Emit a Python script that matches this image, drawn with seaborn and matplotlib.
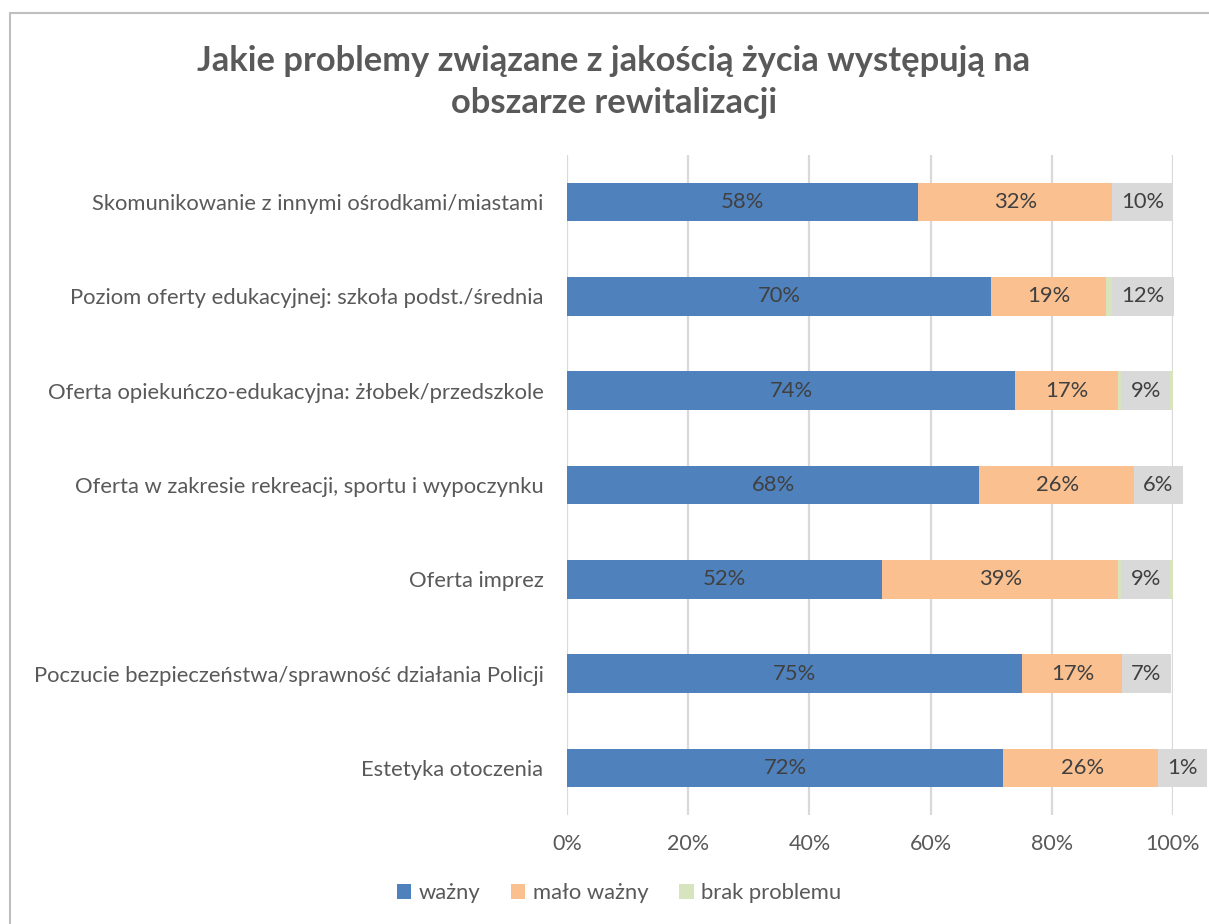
import matplotlib
matplotlib.use("Agg")
import matplotlib.pyplot as plt
import seaborn as sns
import pandas as pd
import numpy as np
from matplotlib.patches import Rectangle, Patch
from matplotlib.ticker import PercentFormatter

# Data
categories = [
    "Skomunikowanie z innymi ośrodkami/miastami",
    "Poziom oferty edukacyjnej: szkoła podst./średnia",
    "Oferta opiekuńczo-edukacyjna: żłobek/przedszkole",
    "Oferta w zakresie rekreacji, sportu i wypoczynku",
    "Oferta imprez",
    "Poczucie bezpieczeństwa/sprawność działania Policji",
    "Estetyka otoczenia",
]
wazny = [58, 70, 74, 68, 52, 75, 72]
malo_wazny = [32, 19, 17, 26, 39, 17, 26]
brak_problemu = [10, 12, 9, 6, 9, 7, 1]
series_names = ["ważny", "mało ważny", "brak problemu"]
colors = ["#4F81BD", "#FAC090", "#D7E4BD"]

df = pd.DataFrame({"kategoria": categories, "w": wazny, "m": malo_wazny, "b": brak_problemu})
df["c1"] = df["w"] / 100
df["c2"] = (df["w"] + df["m"]) / 100
df["c3"] = (df["w"] + df["m"] + df["b"]) / 100

sns.set_theme(style="white")
plt.rcParams["font.family"] = ["Lato", "DejaVu Sans"]
txt = "#595959"
lbl = "#404040"
fs = 15.8

W, H = 1209, 924
fig = plt.figure(figsize=(W / 100, H / 100), dpi=100)
ax = fig.add_axes([567 / W, 1 - 815 / H, 606 / W, 660 / H])

# stacked bars drawn as overlapping cumulative totals
for col, c in zip(["c3", "c2", "c1"], colors[::-1]):
    sns.barplot(data=df, x=col, y="kategoria", orient="h", color=c, width=0.41,
                linewidth=0, saturation=1, ax=ax, zorder=3)

ax.set_xlim(0, 1)
ax.set_ylim(len(categories) - 0.5, -0.5)
ax.xaxis.set_major_locator(plt.MultipleLocator(0.2))
ax.xaxis.set_major_formatter(PercentFormatter(1.0, decimals=0))
ax.grid(axis="x", color="#D9D9D9", linewidth=1.6, zorder=0)
ax.set_axisbelow(True)
for s in ax.spines.values():
    s.set_visible(False)
ax.set_xlabel("")
ax.set_ylabel("")
ax.tick_params(axis="x", labelsize=15.5, colors=txt, pad=14, length=0)
ax.tick_params(axis="y", labelsize=fs, colors=txt, pad=17, length=0)

# data labels
for i, row in df.iterrows():
    ax.text(row["c1"] / 2, i, f"{row['w']}%", ha="center", va="center",
            fontsize=fs, color=lbl, zorder=5)
    ax.text((row["c1"] + row["c2"]) / 2, i, f"{row['m']}%", ha="center", va="center",
            fontsize=fs, color=lbl, zorder=5)
    xb = max((row["c2"] + row["c3"]) / 2, row["c2"] + 0.036)
    ax.text(xb, i, f"{row['b']}%", ha="center", va="center", fontsize=fs, color=lbl,
            zorder=6, clip_on=False,
            bbox=dict(boxstyle="square,pad=0.42", facecolor="#D9D9D9", edgecolor="none"))

# title
fig.text(614 / W, 1 - 82 / H, "Jakie problemy związane z jakością życia występują na\nobszarze rewitalizacji",
         ha="center", va="center", fontsize=24.8, fontweight="bold", color=txt, linespacing=1.4)

# legend
handles = [Patch(facecolor=c, edgecolor="none") for c in colors]
fig.legend(handles, series_names, loc="center", bbox_to_anchor=(619 / W, 1 - 893 / H),
           ncol=3, frameon=False, fontsize=fs, labelcolor=txt, handlelength=0.65,
           handleheight=0.65, handletextpad=0.35, columnspacing=1.4)

# chart border
fig.patches.append(Rectangle((10 / W, -0.1), 1.2, 1.1 - 13 / H, transform=fig.transFigure,
                             fill=False, edgecolor="#BFBFBF", linewidth=1.5, zorder=0))

fig.savefig("out.png", dpi=100, facecolor="white")
